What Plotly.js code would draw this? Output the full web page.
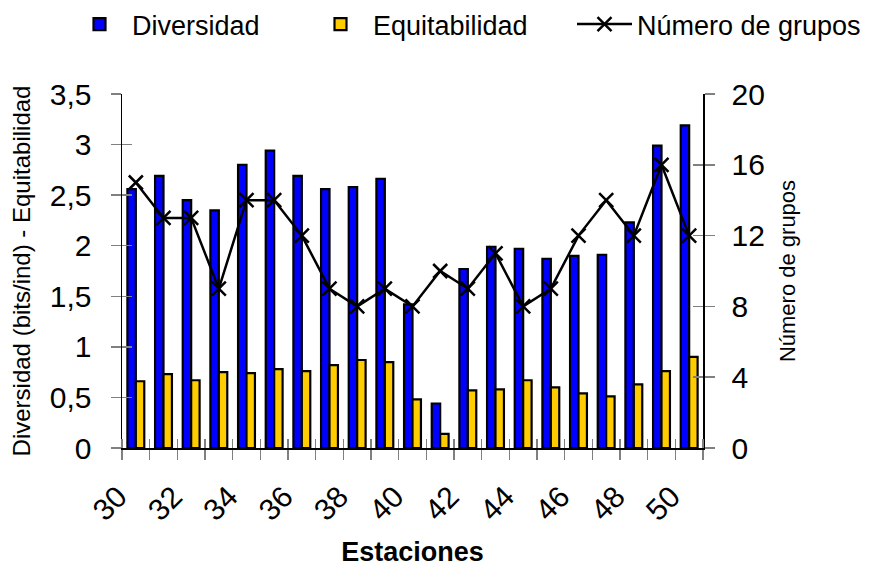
<!DOCTYPE html>
<html>
<head>
<meta charset="utf-8">
<script src="https://cdn.plot.ly/plotly-3.0.1.min.js"></script>
<style>html,body{margin:0;padding:0;background:#fff;}#chart{width:869px;height:567px;}</style>
</head>
<body>
<div id="chart"></div>
<script>
var stations = [30,31,32,33,34,35,36,37,38,39,40,41,42,43,44,45,46,47,48,49,50];
var diversidad = [2.56,2.69,2.45,2.35,2.80,2.94,2.69,2.56,2.58,2.66,1.42,0.44,1.77,1.99,1.97,1.87,1.90,1.91,2.23,2.99,3.19];
var equitabilidad = [0.66,0.73,0.67,0.75,0.74,0.78,0.76,0.82,0.87,0.85,0.48,0.14,0.57,0.58,0.67,0.60,0.54,0.51,0.63,0.76,0.90];
var grupos = [15,13,13,9,14,14,12,9,8,9,8,10,9,11,8,9,12,14,12,16,12];
var xTickVals = [30,32,34,36,38,40,42,44,46,48,50];
var leftTicks = [0,0.5,1,1.5,2,2.5,3,3.5];
var rightTicks = [0,4,8,12,16,20];

var FONT = 'Liberation Sans, Arial, sans-serif';
var tickGray = '#808080';
var PAD = '\u00a0\u00a0\u00a0';

var traces = [
  {type:'bar', name:'Diversidad', legend:'legend', x:stations, y:diversidad, xaxis:'x', yaxis:'y',
   marker:{color:'#0000FF', line:{color:'#000000', width:2.2}}},
  {type:'bar', name:'Equitabilidad', legend:'legend2', x:stations, y:equitabilidad, xaxis:'x', yaxis:'y',
   marker:{color:'#FFCC00', line:{color:'#000000', width:2.2}}},
  {type:'scatter', mode:'lines+markers', name:'Número de grupos', legend:'legend3', x:stations, y:grupos, xaxis:'x', yaxis:'y2',
   line:{color:'#000000', width:2.5},
   marker:{symbol:'x-thin', size:14, color:'#000000', line:{color:'#000000', width:2.5}}},
  {type:'scatter', x:[], y:[], xaxis:'x2', yaxis:'y3', showlegend:false, hoverinfo:'skip'},
  {type:'scatter', x:[], y:[], xaxis:'x2', yaxis:'y4', showlegend:false, hoverinfo:'skip'}
];

function legendAt(xpx) {
  return {orientation:'h', xref:'container', yref:'container', x:xpx/869, y:1, yanchor:'top', xanchor:'left',
          font:{family:FONT, size:27, color:'#000'}, itemwidth:55, bgcolor:'rgba(0,0,0,0)'};
}

var layout = {
  width:869, height:567,
  margin:{l:122, r:166, t:94, b:119, autoexpand:false},
  paper_bgcolor:'#ffffff', plot_bgcolor:'rgba(0,0,0,0)',
  font:{family:FONT, color:'#000000'},
  separators:',.',
  barmode:'group', bargap:0.39, bargroupgap:0,
  showlegend:true,
  legend:legendAt(67),
  legend2:legendAt(308),
  legend3:legendAt(572),
  xaxis:{range:[29.5,50.5], tickmode:'array', tickvals:xTickVals, ticktext:xTickVals.map(function(v){return v + PAD;}),
         ticks:'', tickangle:-45, tickfont:{family:FONT, size:30}, ticklabelstandoff:0,
         showgrid:false, zeroline:false,
         showline:true, linecolor:'#000000', linewidth:1.5, automargin:false,
         minor:{tick0:29.5, dtick:1, ticks:'outside', ticklen:10, tickcolor:tickGray, tickwidth:1.5, showgrid:false},
         title:{text:'<b>Estaciones</b>', font:{family:FONT, size:27}, standoff:22}},
  xaxis2:{range:[29.5,50.5], overlaying:'x', anchor:'y', side:'bottom', showticklabels:false, ticks:'',
          showgrid:false, zeroline:false, showline:false, tickvals:[], automargin:false,
          minor:{tick0:29.5, dtick:1, ticks:'inside', ticklen:9, tickcolor:tickGray, tickwidth:1.5, showgrid:false}},
  yaxis:{range:[0,3.5], tickmode:'array', tickvals:leftTicks, ticks:'outside', ticklen:10, tickcolor:tickGray, tickwidth:1.5,
         tickfont:{family:FONT, size:30}, ticklabelstandoff:13, showgrid:false, zeroline:false,
         showline:true, linecolor:'#000000', linewidth:1.5, automargin:false,
         title:{text:'Diversidad (bits/ind) - Equitabilidad', font:{family:FONT, size:24}, standoff:12}},
  yaxis2:{range:[0,20], overlaying:'y', side:'right', anchor:'x', tickmode:'array', tickvals:rightTicks,
          ticks:'outside', ticklen:10, tickcolor:tickGray, tickwidth:1.5, tickfont:{family:FONT, size:30}, ticklabelstandoff:11,
          showgrid:false, zeroline:false, showline:true, linecolor:'#000000', linewidth:1.5, automargin:false,
          title:{text:'Número de grupos', font:{family:FONT, size:22}, standoff:15}},
  yaxis3:{range:[0,3.5], overlaying:'y', side:'left', anchor:'x2', tickmode:'array', tickvals:leftTicks,
          ticks:'inside', ticklen:10, tickcolor:tickGray, tickwidth:1.5, showticklabels:false,
          showgrid:false, zeroline:false, showline:false, automargin:false},
  yaxis4:{range:[0,20], overlaying:'y', side:'right', anchor:'x2', tickmode:'array', tickvals:rightTicks,
          ticks:'inside', ticklen:10, tickcolor:tickGray, tickwidth:1.5, showticklabels:false,
          showgrid:false, zeroline:false, showline:false, automargin:false}
};

Plotly.newPlot('chart', traces, layout, {displayModeBar:false, staticPlot:true});
</script>
</body>
</html>
